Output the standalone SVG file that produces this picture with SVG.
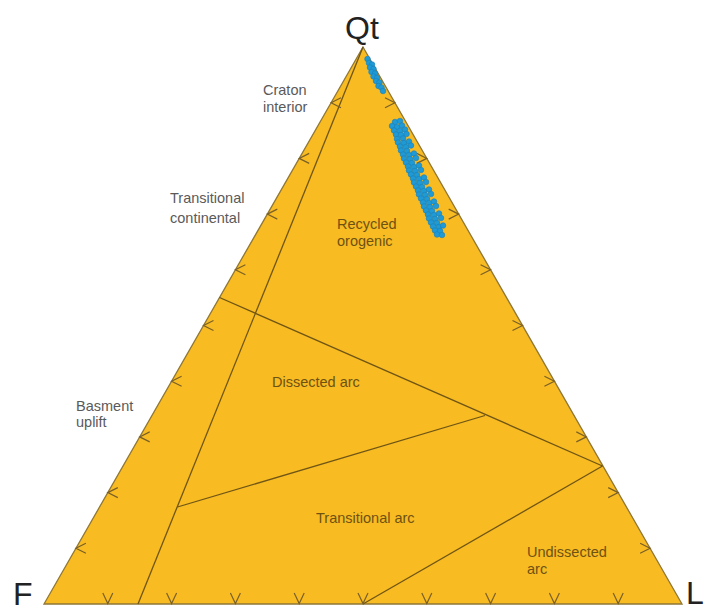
<svg xmlns="http://www.w3.org/2000/svg" width="710" height="611" viewBox="0 0 710 611">
<style>
.out{font-family:"Liberation Sans",Arial,sans-serif;font-size:14.5px;fill:#5a5a5a}
.in{font-family:"Liberation Sans",Arial,sans-serif;font-size:14.5px;fill:#6e5214}
.apex{font-family:"Liberation Sans",Arial,sans-serif;font-size:32px;fill:#222}
.ln{stroke:#6f5516;stroke-width:1.3;fill:none}
.tk{stroke:#7a6028;stroke-width:1.2;fill:none}
.pt{fill:#1e9ad6;stroke:#1a7fb8;stroke-width:0.6}
</style>
<rect width="710" height="611" fill="#fff"/>
<g id="triangle">
<polygon points="363,47 44,604 682,604" fill="#F8BB22" stroke="#8f7736" stroke-width="1.3"/>
</g>
<g id="boundaries">
<line class="ln" x1="363" y1="47" x2="138" y2="604"/>
<line class="ln" x1="219.5" y1="297.5" x2="602.5" y2="466"/>
<line class="ln" x1="177.5" y1="507" x2="485" y2="415.5"/>
<line class="ln" x1="602.5" y1="466" x2="363" y2="604"/>
</g>
<g id="ticks">
<path class="tk" d="M341,97.7 L331.1,102.7 L341,107.7 M309.2,153.4 L299.2,158.4 L309.2,163.4 M277.3,209.1 L267.3,214.1 L277.3,219.1 M245.4,264.8 L235.4,269.8 L245.4,274.8 M213.5,320.5 L203.5,325.5 L213.5,330.5 M181.6,376.2 L171.6,381.2 L181.6,386.2 M149.7,431.9 L139.7,436.9 L149.7,441.9 M117.8,487.6 L107.8,492.6 L117.8,497.6 M85.9,543.3 L75.9,548.3 L85.9,553.3"/>
<path class="tk" d="M385,97.7 L394.9,102.7 L385,107.7 M416.8,153.4 L426.8,158.4 L416.8,163.4 M448.7,209.1 L458.7,214.1 L448.7,219.1 M480.6,264.8 L490.6,269.8 L480.6,274.8 M512.5,320.5 L522.5,325.5 L512.5,330.5 M544.4,376.2 L554.4,381.2 L544.4,386.2 M576.3,431.9 L586.3,436.9 L576.3,441.9 M608.2,487.6 L618.2,492.6 L608.2,497.6 M640.1,543.3 L650.1,548.3 L640.1,553.3"/>
<path class="tk" d="M102.8,593 L107.8,603.5 L112.8,593 M166.6,593 L171.6,603.5 L176.6,593 M230.4,593 L235.4,603.5 L240.4,593 M294.2,593 L299.2,603.5 L304.2,593 M358,593 L363,603.5 L368,593 M421.8,593 L426.8,603.5 L431.8,593 M485.6,593 L490.6,603.5 L495.6,593 M549.4,593 L554.4,603.5 L559.4,593 M613.2,593 L618.2,603.5 L623.2,593"/>
</g>
<g id="data">
<circle class="pt" cx="367.5" cy="59" r="2.8"/><circle class="pt" cx="369" cy="63" r="2.8"/><circle class="pt" cx="372" cy="64.5" r="2.8"/><circle class="pt" cx="370" cy="67.5" r="2.8"/><circle class="pt" cx="373.5" cy="69" r="2.8"/><circle class="pt" cx="371.5" cy="72" r="2.8"/><circle class="pt" cx="375" cy="73.5" r="2.8"/><circle class="pt" cx="373.5" cy="76.5" r="2.8"/><circle class="pt" cx="377" cy="78" r="2.8"/><circle class="pt" cx="376" cy="81" r="2.8"/><circle class="pt" cx="379.5" cy="82.5" r="2.8"/><circle class="pt" cx="378.5" cy="86" r="2.8"/><circle class="pt" cx="381.5" cy="87.5" r="2.8"/><circle class="pt" cx="383" cy="91" r="2.8"/>
<circle class="pt" cx="395" cy="122" r="2.8"/><circle class="pt" cx="400" cy="121" r="2.8"/>
<circle class="pt" cx="392" cy="126" r="2.8"/><circle class="pt" cx="397" cy="127" r="2.8"/><circle class="pt" cx="402" cy="125.5" r="2.8"/>
<circle class="pt" cx="394" cy="130.5" r="2.8"/><circle class="pt" cx="400" cy="131" r="2.8"/><circle class="pt" cx="405" cy="129.5" r="2.8"/>
<circle class="pt" cx="396" cy="134.5" r="2.8"/><circle class="pt" cx="401" cy="135" r="2.8"/><circle class="pt" cx="406.5" cy="134" r="2.8"/>
<circle class="pt" cx="397" cy="139" r="2.8"/><circle class="pt" cx="403" cy="138.5" r="2.8"/>
<circle class="pt" cx="398" cy="142.5" r="2.8"/><circle class="pt" cx="404" cy="143" r="2.8"/><circle class="pt" cx="409" cy="141.5" r="2.8"/>
<circle class="pt" cx="400" cy="146.5" r="2.8"/><circle class="pt" cx="406" cy="147" r="2.8"/><circle class="pt" cx="411" cy="145.5" r="2.8"/>
<circle class="pt" cx="401" cy="150.5" r="2.8"/><circle class="pt" cx="407" cy="151" r="2.8"/>
<circle class="pt" cx="403" cy="154.5" r="2.8"/><circle class="pt" cx="409" cy="155" r="2.8"/><circle class="pt" cx="414" cy="153.5" r="2.8"/>
<circle class="pt" cx="404" cy="158.5" r="2.8"/><circle class="pt" cx="410" cy="159" r="2.8"/><circle class="pt" cx="416" cy="158" r="2.8"/>
<circle class="pt" cx="406" cy="162.5" r="2.8"/><circle class="pt" cx="412" cy="163" r="2.8"/>
<circle class="pt" cx="408" cy="166.5" r="2.8"/><circle class="pt" cx="414" cy="167" r="2.8"/><circle class="pt" cx="419" cy="165.5" r="2.8"/>
<circle class="pt" cx="409" cy="170.5" r="2.8"/><circle class="pt" cx="415" cy="171" r="2.8"/><circle class="pt" cx="421" cy="170" r="2.8"/>
<circle class="pt" cx="411" cy="174.5" r="2.8"/><circle class="pt" cx="417" cy="175" r="2.8"/>
<circle class="pt" cx="413" cy="178.5" r="2.8"/><circle class="pt" cx="419" cy="179" r="2.8"/><circle class="pt" cx="424" cy="177.5" r="2.8"/>
<circle class="pt" cx="414" cy="182.5" r="2.8"/><circle class="pt" cx="420" cy="183" r="2.8"/><circle class="pt" cx="426" cy="182" r="2.8"/>
<circle class="pt" cx="416" cy="186.5" r="2.8"/><circle class="pt" cx="422" cy="187" r="2.8"/>
<circle class="pt" cx="418" cy="190.5" r="2.8"/><circle class="pt" cx="424" cy="191" r="2.8"/><circle class="pt" cx="429" cy="189.5" r="2.8"/>
<circle class="pt" cx="419" cy="194.5" r="2.8"/><circle class="pt" cx="425" cy="195" r="2.8"/><circle class="pt" cx="431" cy="194" r="2.8"/>
<circle class="pt" cx="421" cy="198.5" r="2.8"/><circle class="pt" cx="427" cy="199" r="2.8"/>
<circle class="pt" cx="423" cy="202.5" r="2.8"/><circle class="pt" cx="429" cy="203" r="2.8"/><circle class="pt" cx="434" cy="201.5" r="2.8"/>
<circle class="pt" cx="424" cy="206.5" r="2.8"/><circle class="pt" cx="430" cy="207" r="2.8"/><circle class="pt" cx="436" cy="206" r="2.8"/>
<circle class="pt" cx="426" cy="210.5" r="2.8"/><circle class="pt" cx="432" cy="211" r="2.8"/>
<circle class="pt" cx="428" cy="214.5" r="2.8"/><circle class="pt" cx="434" cy="215" r="2.8"/><circle class="pt" cx="439" cy="213.5" r="2.8"/>
<circle class="pt" cx="429" cy="218.5" r="2.8"/><circle class="pt" cx="435" cy="219" r="2.8"/><circle class="pt" cx="441" cy="218" r="2.8"/>
<circle class="pt" cx="431" cy="222.5" r="2.8"/><circle class="pt" cx="437" cy="223" r="2.8"/>
<circle class="pt" cx="433" cy="226.5" r="2.8"/><circle class="pt" cx="439" cy="227" r="2.8"/><circle class="pt" cx="443" cy="225.5" r="2.8"/>
<circle class="pt" cx="435" cy="230.5" r="2.8"/><circle class="pt" cx="440" cy="231" r="2.8"/>
<circle class="pt" cx="437" cy="234.5" r="2.8"/><circle class="pt" cx="442" cy="235" r="2.8"/>
</g>
<g id="labels">
<text class="apex" x="362" y="39" text-anchor="middle">Qt</text>
<text class="apex" x="13" y="605">F</text>
<text class="apex" x="686" y="604">L</text>
<text class="out" x="263" y="95">Craton</text>
<text class="out" x="263" y="112">interior</text>
<text class="out" x="170" y="203">Transitional</text>
<text class="out" x="170" y="223">continental</text>
<text class="out" x="76" y="411">Basment</text>
<text class="out" x="76" y="427">uplift</text>
<text class="in" x="337" y="229">Recycled</text>
<text class="in" x="337" y="246">orogenic</text>
<text class="in" x="272" y="387">Dissected arc</text>
<text class="in" x="316" y="523">Transitional arc</text>
<text class="in" x="527" y="557">Undissected</text>
<text class="in" x="527" y="574">arc</text>
</g>
</svg>
